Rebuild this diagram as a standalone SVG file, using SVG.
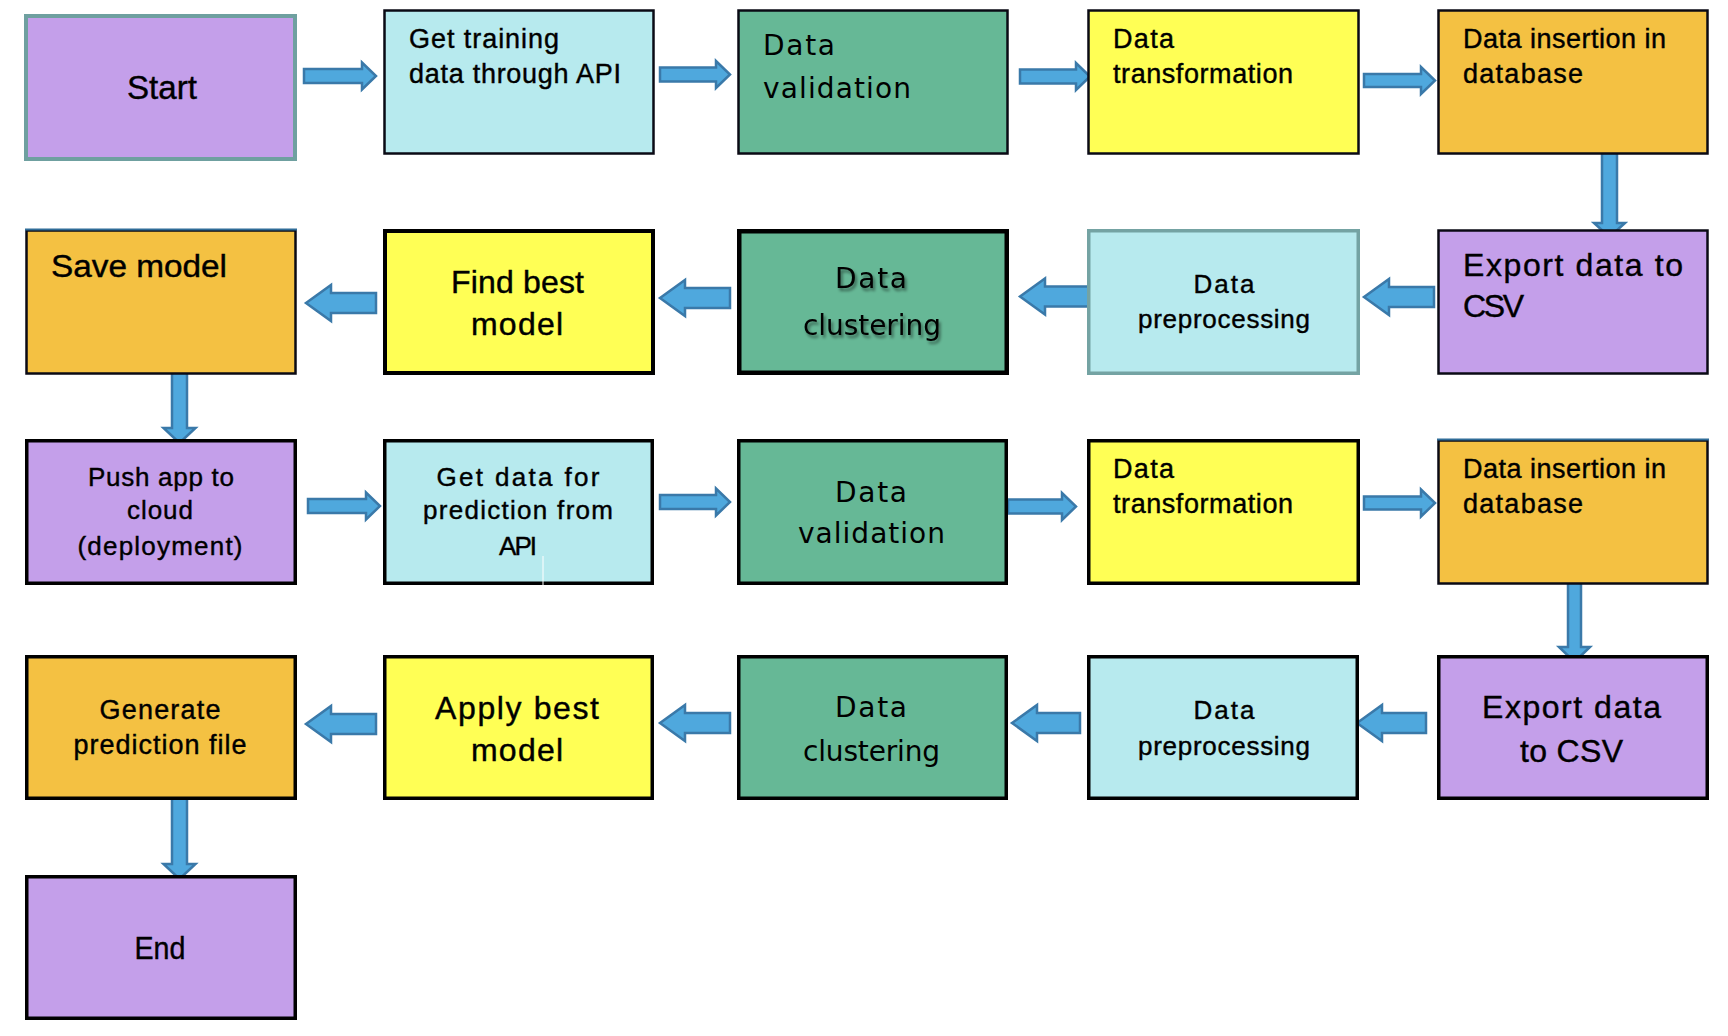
<svg xmlns="http://www.w3.org/2000/svg" width="1728" height="1036" viewBox="0 0 1728 1036">
<defs>
<style>
.purple{fill:#c49fea}
.cyan{fill:#b7eaee}
.green{fill:#66b896}
.yellow{fill:#ffff55}
.orange{fill:#f4c142}
.bk{stroke:#000;stroke-width:3.5}
.bt{stroke:#0a0a14;stroke-width:2.5}
.teal{stroke:#6fa0a0;stroke-width:4}
.t{font-family:"Liberation Sans",Arial,sans-serif;fill:#000;stroke:#000;stroke-width:0.4}
.g{font-family:"DejaVu Sans","Liberation Sans",sans-serif;fill:#000}
.arr{fill:#4fa8dd;stroke:#3a79a9;stroke-width:2.5;stroke-linejoin:miter}
</style>
<filter id="sh" x="-10%" y="-20%" width="130%" height="150%">
<feDropShadow dx="2" dy="3" stdDeviation="1.5" flood-color="#000" flood-opacity="0.45"/>
</filter>
</defs>
<rect width="1728" height="1036" fill="#fff"/>

<g id="connectors">
<polygon class="arr" points="304,69 362,69 362,62.5 376,76 362,89.5 362,83 304,83"/>
<polygon class="arr" points="660,67.5 716,67.5 716,61 730,74.5 716,88 716,81.5 660,81.5"/>
<polygon class="arr" points="1020,69.5 1076,69.5 1076,63 1090,76.5 1076,90 1076,83.5 1020,83.5"/>
<polygon class="arr" points="1364,74 1421,74 1421,67 1435,80.5 1421,94 1421,87 1364,87"/>
<polygon class="arr" points="1602,153 1617,153 1617,223 1625,223 1609.5,237 1594,223 1602,223"/>
<polygon class="arr" points="1434,287 1389,287 1389,279 1364,297 1389,315 1389,307 1434,307"/>
<polygon class="arr" points="1090,286.5 1045,286.5 1045,278.5 1020,296.5 1045,314.5 1045,306.5 1090,306.5"/>
<polygon class="arr" points="730,288 685,288 685,280 660,298 685,316 685,308 730,308"/>
<polygon class="arr" points="376,293 331,293 331,285 306,303 331,321 331,313 376,313"/>
<polygon class="arr" points="172,358 187,358 187,428 195.5,428 179.5,443 163.5,428 172,428"/>
<polygon class="arr" points="308,499 366,499 366,492.5 380,506 366,519.5 366,513 308,513"/>
<polygon class="arr" points="660,495 716,495 716,488.5 730,502 716,515.5 716,509 660,509"/>
<polygon class="arr" points="1008,499.5 1062,499.5 1062,493 1076,506.5 1062,520 1062,513.5 1008,513.5"/>
<polygon class="arr" points="1364,496.5 1421,496.5 1421,489.5 1435,503 1421,516.5 1421,509.5 1364,509.5"/>
<polygon class="arr" points="1568,576 1581,576 1581,647 1590,647 1574.5,662 1559,647 1568,647"/>
<polygon class="arr" points="1426,713 1382,713 1382,705 1357,723 1382,741 1382,733 1426,733"/>
<polygon class="arr" points="1080,713 1037,713 1037,705 1012,723 1037,741 1037,733 1080,733"/>
<polygon class="arr" points="730,713 685,713 685,705 660,723 685,741 685,733 730,733"/>
<polygon class="arr" points="376,714 331,714 331,706 306,724 331,742 331,734 376,734"/>
<polygon class="arr" points="172,794 187,794 187,864 195.5,864 179.5,879 163.5,864 172,864"/>
</g>

<g id="start">
<rect class="purple teal" x="26" y="16" width="269" height="143"/>
<text class="t" x="162" y="99" font-size="33" text-anchor="middle" textLength="70" lengthAdjust="spacingAndGlyphs">Start</text>
</g>
<g id="get-training">
<rect class="cyan bt" x="384.5" y="10.5" width="269" height="143"/>
<text class="t" font-size="27" lengthAdjust="spacingAndGlyphs"><tspan x="409" y="48" textLength="150">Get training</tspan><tspan x="409" y="83" textLength="212">data through API</tspan></text>
</g>
<g id="data-validation-1">
<rect class="green bt" x="738.5" y="10.5" width="269" height="143"/>
<text class="g" font-size="28" lengthAdjust="spacingAndGlyphs"><tspan x="763" y="55" textLength="72">Data</tspan><tspan x="763" y="98" textLength="148">validation</tspan></text>
</g>
<g id="data-transformation-1">
<rect class="yellow bt" x="1088.5" y="10.5" width="270" height="143"/>
<text class="t" font-size="27" lengthAdjust="spacingAndGlyphs"><tspan x="1113" y="48" textLength="61">Data</tspan><tspan x="1113" y="83" textLength="180">transformation</tspan></text>
</g>
<g id="data-insertion-1">
<rect class="orange bt" x="1438.5" y="10.5" width="269" height="143"/>
<text class="t" font-size="27" lengthAdjust="spacingAndGlyphs"><tspan x="1463" y="48" textLength="203">Data insertion in</tspan><tspan x="1463" y="83" textLength="120">database</tspan></text>
</g>

<g id="export-csv-1">
<rect class="purple bt" x="1438.5" y="230.5" width="269" height="143"/>
<text class="t" font-size="32" lengthAdjust="spacingAndGlyphs"><tspan x="1463" y="276" textLength="220">Export data to</tspan><tspan x="1463" y="317" textLength="61">CSV</tspan></text>
</g>
<g id="data-preprocessing-1">
<rect class="cyan" x="1088.75" y="230.75" width="269.5" height="142.5" stroke="#74a3a3" stroke-width="3.5"/>
<text class="t" font-size="26" text-anchor="middle" lengthAdjust="spacingAndGlyphs"><tspan x="1224" y="293" textLength="61">Data</tspan><tspan x="1224" y="328" textLength="172">preprocessing</tspan></text>
</g>
<g id="data-clustering-1">
<rect class="green" x="739.25" y="231.25" width="267.5" height="141.5" stroke="#000" stroke-width="4.5"/>
<text class="g" font-size="28" text-anchor="middle" filter="url(#sh)" lengthAdjust="spacingAndGlyphs"><tspan x="871" y="288" textLength="72">Data</tspan><tspan x="872" y="335" textLength="138">clustering</tspan></text>
</g>
<g id="find-best-model">
<rect class="yellow" x="385" y="231" width="268" height="142" stroke="#000" stroke-width="4"/>
<text class="t" font-size="32" text-anchor="middle" lengthAdjust="spacingAndGlyphs"><tspan x="517.5" y="293" textLength="133">Find best</tspan><tspan x="517" y="335" textLength="92">model</tspan></text>
</g>
<g id="save-model">
<rect class="orange bt" x="26.5" y="230.5" width="269" height="143"/>
<line x1="25" y1="229.5" x2="297" y2="229.5" stroke="#2f6c98" stroke-width="2"/>
<text class="t" x="51" y="277" font-size="31" textLength="176" lengthAdjust="spacingAndGlyphs">Save model</text>
</g>

<g id="push-app">
<rect class="purple bk" x="26.75" y="440.75" width="268.5" height="142.5"/>
<text class="t" font-size="26" text-anchor="middle" lengthAdjust="spacingAndGlyphs"><tspan x="161" y="486" textLength="146">Push app to</tspan><tspan x="160" y="519" textLength="66">cloud</tspan><tspan x="160" y="555" textLength="165">(deployment)</tspan></text>
</g>
<g id="get-prediction-data">
<rect class="cyan bk" x="384.75" y="440.75" width="267.5" height="142.5"/>
<line x1="543" y1="556" x2="543" y2="585" stroke="#fff" stroke-width="1"/>
<text class="t" font-size="26" text-anchor="middle" lengthAdjust="spacingAndGlyphs"><tspan x="518" y="486" textLength="163">Get data for</tspan><tspan x="518" y="519" textLength="190">prediction from</tspan><tspan x="518" y="555" textLength="38">API</tspan></text>
</g>
<g id="data-validation-2">
<rect class="green bk" x="738.75" y="440.75" width="267.5" height="142.5"/>
<text class="g" font-size="28" text-anchor="middle" lengthAdjust="spacingAndGlyphs"><tspan x="871" y="502" textLength="72">Data</tspan><tspan x="871.5" y="543" textLength="147">validation</tspan></text>
</g>
<g id="data-transformation-2">
<rect class="yellow bk" x="1088.75" y="440.75" width="269.5" height="142.5"/>
<text class="t" font-size="27" lengthAdjust="spacingAndGlyphs"><tspan x="1113" y="478" textLength="61">Data</tspan><tspan x="1113" y="513" textLength="180">transformation</tspan></text>
</g>
<g id="data-insertion-2">
<rect class="orange bt" x="1438.5" y="440.5" width="269" height="143"/>
<line x1="1437" y1="439.5" x2="1709" y2="439.5" stroke="#2f6c98" stroke-width="2"/>
<text class="t" font-size="27" lengthAdjust="spacingAndGlyphs"><tspan x="1463" y="478" textLength="203">Data insertion in</tspan><tspan x="1463" y="513" textLength="120">database</tspan></text>
</g>

<g id="export-csv-2">
<rect class="purple bk" x="1438.75" y="656.75" width="268.5" height="141.5"/>
<text class="t" font-size="32" text-anchor="middle" lengthAdjust="spacingAndGlyphs"><tspan x="1571.5" y="718" textLength="179">Export data</tspan><tspan x="1571.5" y="762" textLength="103">to CSV</tspan></text>
</g>
<g id="data-preprocessing-2">
<rect class="cyan bk" x="1088.75" y="656.75" width="268.5" height="141.5"/>
<text class="t" font-size="26" text-anchor="middle" lengthAdjust="spacingAndGlyphs"><tspan x="1224" y="719" textLength="61">Data</tspan><tspan x="1224" y="755" textLength="172">preprocessing</tspan></text>
</g>
<g id="data-clustering-2">
<rect class="green bk" x="738.75" y="656.75" width="267.5" height="141.5"/>
<text class="g" font-size="28" text-anchor="middle" lengthAdjust="spacingAndGlyphs"><tspan x="871" y="717" textLength="72">Data</tspan><tspan x="871.5" y="761" textLength="137">clustering</tspan></text>
</g>
<g id="apply-best-model">
<rect class="yellow bk" x="384.75" y="656.75" width="267.5" height="141.5"/>
<text class="t" font-size="32" text-anchor="middle" lengthAdjust="spacingAndGlyphs"><tspan x="517" y="719" textLength="164">Apply best</tspan><tspan x="517" y="761" textLength="92">model</tspan></text>
</g>
<g id="generate-prediction-file">
<rect class="orange bk" x="26.75" y="656.75" width="268.5" height="141.5"/>
<text class="t" font-size="27" text-anchor="middle" lengthAdjust="spacingAndGlyphs"><tspan x="160" y="719" textLength="121">Generate</tspan><tspan x="160" y="754" textLength="173">prediction file</tspan></text>
</g>

<g id="end">
<rect class="purple bk" x="26.75" y="876.75" width="268.5" height="141.5"/>
<text class="t" x="160" y="959" font-size="32" text-anchor="middle" textLength="51" lengthAdjust="spacingAndGlyphs">End</text>
</g>
</svg>
